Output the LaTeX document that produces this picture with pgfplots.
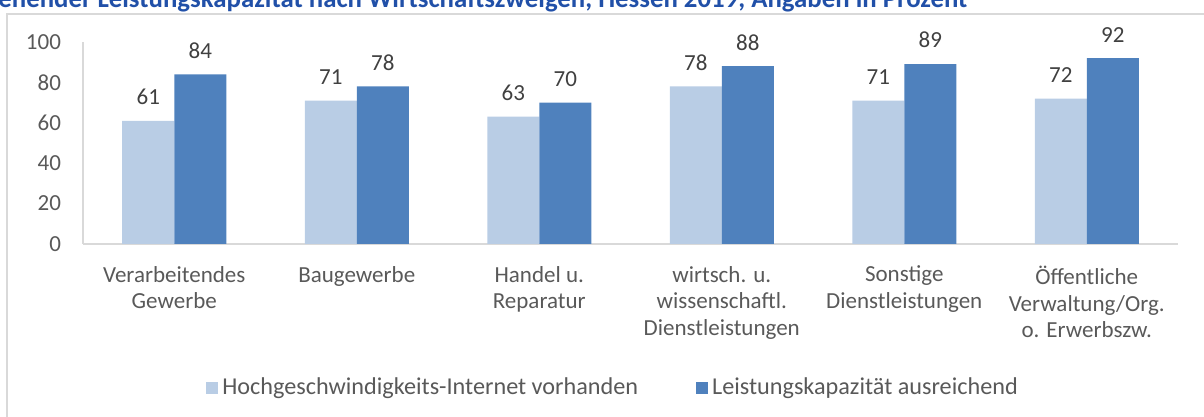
\documentclass[border=0pt]{standalone}
\usepackage{pgfplots}
\pgfplotsset{compat=1.18}
\usepackage{fontspec}
\setmainfont{Carlito}
\definecolor{lightbar}{HTML}{B9CDE5}
\definecolor{darkbar}{HTML}{4F81BD}
\definecolor{axgray}{HTML}{D9D9D9}
\definecolor{txtgray}{HTML}{595959}
\definecolor{lblgray}{HTML}{404040}
\definecolor{titleblue}{HTML}{2150A8}
\newcommand{\chfont}{\fontsize{11.5}{13.35}\selectfont}
\begin{document}
\begin{tikzpicture}
\path[use as bounding box, clip] (0,0) rectangle (602pt,208.5pt);
\draw[axgray, line width=0.75pt] (3.5pt,-10pt) -- (3.5pt,201.5pt) -- (620pt,201.5pt);
\node[anchor=base west, inner sep=0, font=\fontsize{13.4}{15}\selectfont\bfseries, text=titleblue] at (-1pt,204.5pt) {ehender Leistungskapazität nach Wirtschaftszweigen, Hessen 2019, Angaben in Prozent};
\begin{axis}[
  at={(41.5pt,86.5pt)}, anchor=south west,
  scale only axis, width=547.5pt, height=101pt,
  ybar=0pt, bar width=26pt,
  xmin=-0.5, xmax=5.5, ymin=0, ymax=100,
  xtick=data,
  xticklabels={Verarbeitendes\\Gewerbe, Baugewerbe, Handel u.\\Reparatur, wirtsch. u.\\wissenschaftl.\\Dienstleistungen, Sonstige\\Dienstleistungen, Öffentliche\\Verwaltung/Org.\\o. Erwerbszw.},
  ytick={0,20,...,100},
  axis x line*=bottom, axis y line*=left,
  x axis line style={axgray, line width=1pt},
  y axis line style={axgray, line width=0.6pt},
  major tick length=0pt,
  tick label style={font=\chfont, text=txtgray},
  /pgf/number format/assume math mode=true,
  yticklabel style={xshift=-7.5pt},
  xticklabel style={align=center, yshift=-7.5pt},
  clip=false,
  nodes near coords,
  every node near coord/.append style={font=\chfont, text=lblgray, yshift=4.5pt},
  legend style={at={(0.485,-0.713)}, anchor=center, draw=none, fill=none,
    legend columns=2, font=\fontsize{12.1}{14}\selectfont, text=txtgray,
    /tikz/every even column/.append style={column sep=27pt}},
  legend image code/.code={\fill[#1] (0pt,-3pt) rectangle (6pt,3pt);},
]
\addplot[fill=lightbar, draw=none] coordinates {(0,61) (1,71) (2,63) (3,78) (4,71) (5,72)};
\addplot[fill=darkbar, draw=none] coordinates {(0,84) (1,78) (2,70) (3,88) (4,89) (5,92)};
\legend{Hochgeschwindigkeits-Internet vorhanden, Leistungskapazität ausreichend}
\end{axis}
\end{tikzpicture}
\end{document}
